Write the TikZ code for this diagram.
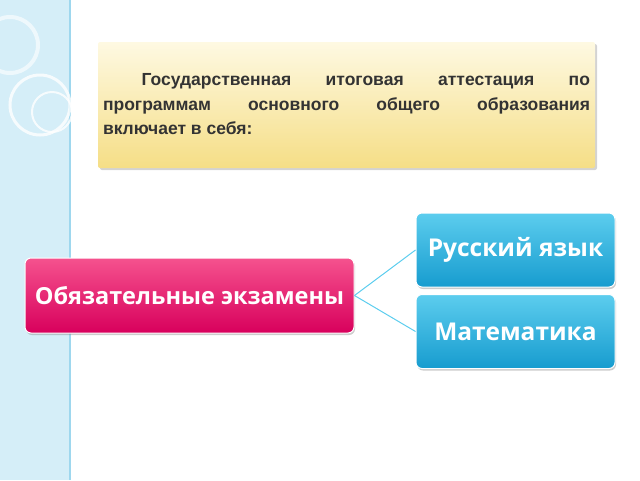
\documentclass[tikz,border=0pt]{standalone}
\usepackage{fontspec}
\setmainfont{Liberation Sans}
\newfontfamily\boxfont{Open Sans}
\usetikzlibrary{positioning,shadows}
\definecolor{stripblue}{HTML}{D5EEF8}
\definecolor{stripline}{HTML}{9ED7EE}
\definecolor{pinktop}{HTML}{F5528E}
\definecolor{pinkbot}{HTML}{D8005C}
\definecolor{bluetop}{HTML}{5CCDEE}
\definecolor{bluebot}{HTML}{179CCF}
\definecolor{creamtop}{HTML}{FEF9E2}
\definecolor{creambot}{HTML}{F5DE86}
\tikzset{
  titlebox/.style={rounded corners=2pt,top color=creamtop,bottom color=creambot,
    drop shadow={shadow xshift=2pt,shadow yshift=-2pt,opacity=0.35},
    minimum width=497pt,minimum height=126pt,inner sep=0pt},
  exambox/.style={rounded corners=6pt,top color=pinktop,bottom color=pinkbot,draw=white,line width=1pt,
    drop shadow={shadow xshift=1pt,shadow yshift=-2pt,opacity=0.4},
    minimum width=329pt,minimum height=75pt,text=white,font=\boxfont\bfseries\fontsize{23.5}{26}\selectfont},
  subjbox/.style={rounded corners=6pt,top color=bluetop,bottom color=bluebot,draw=white,line width=1pt,
    drop shadow={shadow xshift=1pt,shadow yshift=-2pt,opacity=0.4},
    minimum width=199pt,minimum height=74pt,text=white,font=\boxfont\bfseries\fontsize{24.5}{26}\selectfont},
  link/.style={draw=bluetop,line width=1pt}
}
\begin{document}
\begin{tikzpicture}[x=1pt,y=-1pt]
  \useasboundingbox (0,0) rectangle (640,480);
  % left strip
  \fill[stripblue] (0,0) rectangle (70,480);
  \draw[stripline,line width=1.5pt] (70,0) -- (70,480);
  \draw[white,line width=3pt,opacity=0.8] (40,105) circle (30);
  \draw[white,line width=2pt,opacity=0.8] (52,112) circle (20);
  \draw[white,line width=4pt,opacity=0.6] (10,45) circle (28);
  % boxes
  \node (title) [titlebox] at (346.5,105) {};
  \node [anchor=north,text width=487pt,align=justify,font=\bfseries\fontsize{17.5}{24.5}\selectfont,text=black!80] at (346.5,70)
    {\hspace*{2.2em}Государственная итоговая аттестация по\linebreak программам основного общего образования\linebreak включает в себя:};
  \node (exams) [exambox] at (189.5,295.5) {Обязательные экзамены};
  \node (russian) [subjbox] at (515.5,250) {Русский язык};
  \node (maths) [subjbox] at (515.5,331.5) {Математика};
  \draw[link] (exams.east) -- (russian.west);
  \draw[link] (exams.east) -- (maths.west);
\end{tikzpicture}
\end{document}
